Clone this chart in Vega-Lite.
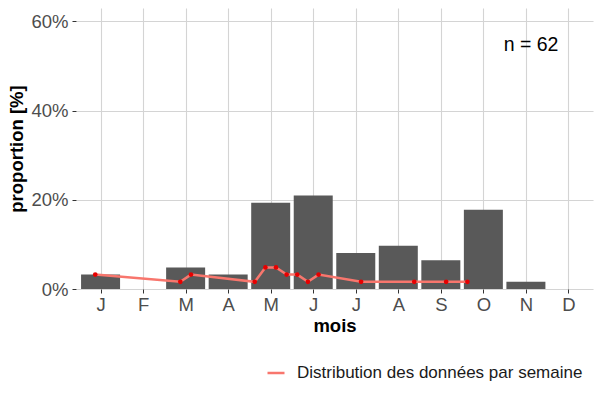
{
  "$schema": "https://vega.github.io/schema/vega-lite/v6.json",
  "width": 517,
  "height": 281,
  "autosize": {"type": "none"},
  "padding": {"left": 76, "top": 8, "right": 7, "bottom": 111},
  "background": "white",
  "config": {
    "view": {"stroke": null},
    "font": "Liberation Sans",
    "axis": {
      "domain": false,
      "grid": true,
      "gridColor": "#D4D4D4",
      "gridWidth": 1.1,
      "tickColor": "#333333",
      "tickSize": 4,
      "labelFont": "Liberation Sans",
      "labelFontSize": 18.5,
      "labelColor": "#4D4D4D",
      "titleFont": "Liberation Sans",
      "titleFontSize": 18.5,
      "titleFontWeight": "bold",
      "titleColor": "#000000"
    }
  },
  "datasets": {
    "months": [
      {"month": 1, "prop": 0.0323},
      {"month": 2, "prop": 0},
      {"month": 3, "prop": 0.0484},
      {"month": 4, "prop": 0.0323},
      {"month": 5, "prop": 0.1935},
      {"month": 6, "prop": 0.2097},
      {"month": 7, "prop": 0.0806},
      {"month": 8, "prop": 0.0968},
      {"month": 9, "prop": 0.0645},
      {"month": 10, "prop": 0.1774},
      {"month": 11, "prop": 0.0161},
      {"month": 12, "prop": 0}
    ],
    "weeks": [
      {"pos": 0.875, "prop": 0.0323},
      {"pos": 2.875, "prop": 0.0161},
      {"pos": 3.125, "prop": 0.0323},
      {"pos": 4.625, "prop": 0.0161},
      {"pos": 4.875, "prop": 0.0484},
      {"pos": 5.125, "prop": 0.0484},
      {"pos": 5.375, "prop": 0.0323},
      {"pos": 5.625, "prop": 0.0323},
      {"pos": 5.875, "prop": 0.0161},
      {"pos": 6.125, "prop": 0.0323},
      {"pos": 7.125, "prop": 0.0161},
      {"pos": 8.375, "prop": 0.0161},
      {"pos": 9.125, "prop": 0.0161},
      {"pos": 9.625, "prop": 0.0161}
    ],
    "note": [{"label": "n = 62"}]
  },
  "layer": [
    {
      "data": {"name": "months"},
      "mark": {"type": "bar", "color": "#595959", "size": 39},
      "encoding": {
        "x": {
          "field": "month",
          "type": "quantitative",
          "scale": {"domain": [0.54, 12.46], "nice": false, "zero": false},
          "axis": {
            "title": "mois",
            "values": [1, 2, 3, 4, 5, 6, 7, 8, 9, 10, 11, 12],
            "labelExpr": "['J','F','M','A','M','J','J','A','S','O','N','D'][datum.value-1]",
            "labelPadding": 2,
            "titlePadding": 3
          }
        },
        "y": {
          "field": "prop",
          "type": "quantitative",
          "scale": {"domain": [0, 0.63], "nice": false},
          "axis": {
            "title": "proportion [%]",
            "values": [0, 0.2, 0.4, 0.6],
            "format": ".0%",
            "labelPadding": 4,
            "titlePadding": 4
          }
        }
      }
    },
    {
      "data": {"name": "weeks"},
      "mark": {"type": "line", "strokeWidth": 2.5},
      "encoding": {
        "x": {"field": "pos", "type": "quantitative"},
        "y": {"field": "prop", "type": "quantitative"},
        "color": {
          "datum": "Distribution des données par semaine",
          "scale": {"range": ["#F8766D"]},
          "legend": {
            "title": null,
            "orient": "none",
            "legendX": 190,
            "legendY": 355,
            "padding": 0,
            "symbolType": "stroke",
            "symbolSize": 289,
            "symbolStrokeWidth": 2.5,
            "labelFont": "Liberation Sans",
            "labelFontSize": 17,
            "labelColor": "#1A1A1A",
            "labelOffset": 11,
            "labelLimit": 500
          }
        }
      }
    },
    {
      "data": {"name": "weeks"},
      "mark": {"type": "point", "filled": true, "color": "#E60000", "size": 22, "opacity": 1},
      "encoding": {
        "x": {"field": "pos", "type": "quantitative"},
        "y": {"field": "prop", "type": "quantitative"}
      }
    },
    {
      "data": {"name": "note"},
      "mark": {"type": "text", "fontSize": 19.5, "color": "#000000", "font": "Liberation Sans"},
      "encoding": {
        "x": {"datum": 11.12},
        "y": {"datum": 0.547},
        "text": {"field": "label"}
      }
    }
  ]
}
